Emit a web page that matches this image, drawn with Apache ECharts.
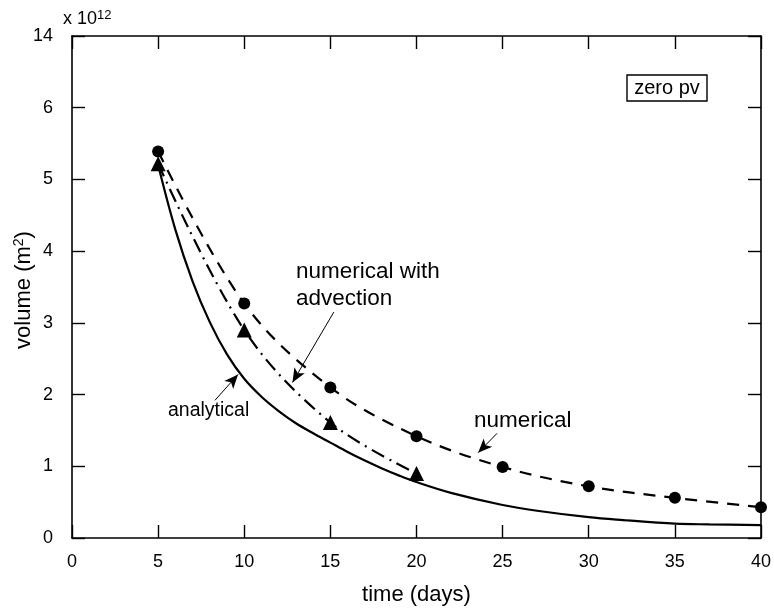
<!DOCTYPE html>
<html>
<head>
<meta charset="utf-8">
<script src="https://cdn.jsdelivr.net/npm/echarts@6/dist/echarts.min.js"></script>
<style>
html,body{margin:0;padding:0;background:#fff;}
#chart{width:774px;height:611px;}
</style>
</head>
<body>
<div id="chart"></div>
<script>
// ---- data ----
var analyticalDays = [5, 6, 7, 8, 9, 10, 11, 12, 13, 14, 15, 16, 17, 18, 19, 20, 22, 25, 27, 30, 32, 35, 37, 40];
var analyticalVol  = [5.2, 4.3, 3.58, 3.01, 2.56, 2.22, 1.97, 1.77, 1.6, 1.46, 1.33, 1.2, 1.08, 0.97, 0.87, 0.78, 0.63, 0.46, 0.38, 0.29, 0.25, 0.2, 0.19, 0.18];
var numericalDays  = [5, 10, 15, 20, 25, 30, 35, 40];
var numericalVol   = [5.39, 3.27, 2.1, 1.42, 0.99, 0.72, 0.56, 0.43];
var advectionDays  = [5, 10, 15, 20];
var advectionVol   = [5.22, 2.9, 1.61, 0.9];
var xTicks = [0, 5, 10, 15, 20, 25, 30, 35, 40];
var yTickLabels = ['0', '1', '2', '3', '4', '5', '6', '14'];

function pairs(xs, ys) { return xs.map(function (x, i) { return [x, ys[i]]; }); }

var FONT = 'Liberation Sans, Arial, Helvetica, sans-serif';
var chart = echarts.init(document.getElementById('chart'), null, {renderer: 'canvas'});

var axisLine = {show: true, onZero: false, lineStyle: {color: '#000', width: 1.6}};
var tickIn = {show: true, inside: true, length: 13, lineStyle: {color: '#000', width: 1.4}};

function arrow(from, to, curve) {
  return [{coord: from, lineStyle: {curveness: curve || 0}}, {coord: to}];
}
var arrowLine = {
  silent: true, symbol: ['none', 'arrow'], symbolSize: [9, 14], label: {show: false},
  lineStyle: {color: '#000', width: 1, type: 'solid'}
};

var option = {
  animation: false,
  backgroundColor: '#fff',
  grid: {left: 72, right: 13, top: 36, bottom: 70, containLabel: false},
  xAxis: [{
    type: 'value', min: 0, max: 40, interval: 5, position: 'bottom',
    axisLine: axisLine, axisTick: tickIn, splitLine: {show: false},
    axisLabel: {color: '#000', fontSize: 18, fontFamily: FONT, margin: 15,
      formatter: function (v) { return xTicks.indexOf(v) >= 0 ? String(v) : ''; }},
    name: 'time (days)', nameLocation: 'middle', nameGap: 46,
    nameTextStyle: {color: '#000', fontSize: 22, fontFamily: FONT}
  }, {
    type: 'value', min: 0, max: 40, interval: 5, position: 'top',
    axisLine: axisLine, axisTick: tickIn, splitLine: {show: false}, axisLabel: {show: false}
  }],
  yAxis: [{
    type: 'value', min: 0, max: 7, interval: 1, position: 'left',
    axisLine: axisLine, axisTick: tickIn, splitLine: {show: false},
    axisLabel: {color: '#000', fontSize: 18, fontFamily: FONT, margin: 19,
      formatter: function (v) { return yTickLabels[Math.round(v)]; }}
  }, {
    type: 'value', min: 0, max: 7, interval: 1, position: 'right',
    axisLine: axisLine, axisTick: tickIn, splitLine: {show: false}, axisLabel: {show: false}
  }],
  series: [{
    name: 'analytical', type: 'line', data: pairs(analyticalDays, analyticalVol),
    smooth: 0.35, showSymbol: false, symbol: 'none',
    lineStyle: {color: '#000', width: 2.2, type: 'solid'},
    markLine: Object.assign({}, arrowLine, {data: [arrow([8.3, 1.92], [9.64, 2.28], 0)]})
  }, {
    name: 'numerical', type: 'line', data: pairs(numericalDays, numericalVol),
    smooth: 0.35, symbol: 'circle', symbolSize: 12,
    itemStyle: {color: '#000'},
    lineStyle: {color: '#000', width: 2.2, type: [12, 9]},
    markLine: Object.assign({}, arrowLine, {data: [arrow([24.68, 1.46], [23.58, 1.19], 0)]})
  }, {
    name: 'numerical with advection', type: 'line', data: pairs(advectionDays, advectionVol),
    smooth: 0.35, symbol: 'triangle', symbolSize: 15,
    itemStyle: {color: '#000'},
    lineStyle: {color: '#000', width: 2.2, type: [14, 6, 2, 6]},
    markLine: Object.assign({}, arrowLine, {data: [arrow([15.2, 3.15], [12.8, 2.17], 0.3)]})
  }],
  graphic: [
    {type: 'text', left: 63, top: 9, style: {
      text: 'x 10{s|12}', fill: '#000', font: '18px ' + FONT,
      rich: {s: {fontSize: 13, fontFamily: FONT, verticalAlign: 'top', padding: [0, 0, 8, 0]}}
    }},
    {type: 'text', x: 24, y: 290, rotation: Math.PI / 2, style: {
      text: 'volume (m{s|2})', fill: '#000', font: '22px ' + FONT, align: 'center', verticalAlign: 'middle',
      rich: {s: {fontSize: 14, fontFamily: FONT, padding: [0, 0, 10, 0]}}
    }},
    {type: 'rect', shape: {x: 627, y: 75, width: 80, height: 26}, style: {fill: '#fff', stroke: '#000', lineWidth: 1.4}},
    {type: 'text', x: 667, y: 88, style: {text: 'zero pv', fill: '#000', font: '20px ' + FONT, align: 'center', verticalAlign: 'middle'}},
    {type: 'text', x: 296, y: 258, style: {text: 'numerical with\nadvection', fill: '#000', font: '22.5px ' + FONT, lineHeight: 27}},
    {type: 'text', x: 168, y: 411, style: {text: 'analytical', fill: '#000', font: '19.5px ' + FONT, verticalAlign: 'middle'}},
    {type: 'text', x: 474, y: 421, style: {text: 'numerical', fill: '#000', font: '22.5px ' + FONT, verticalAlign: 'middle'}}
  ]
};
chart.setOption(option);
</script>
</body>
</html>
